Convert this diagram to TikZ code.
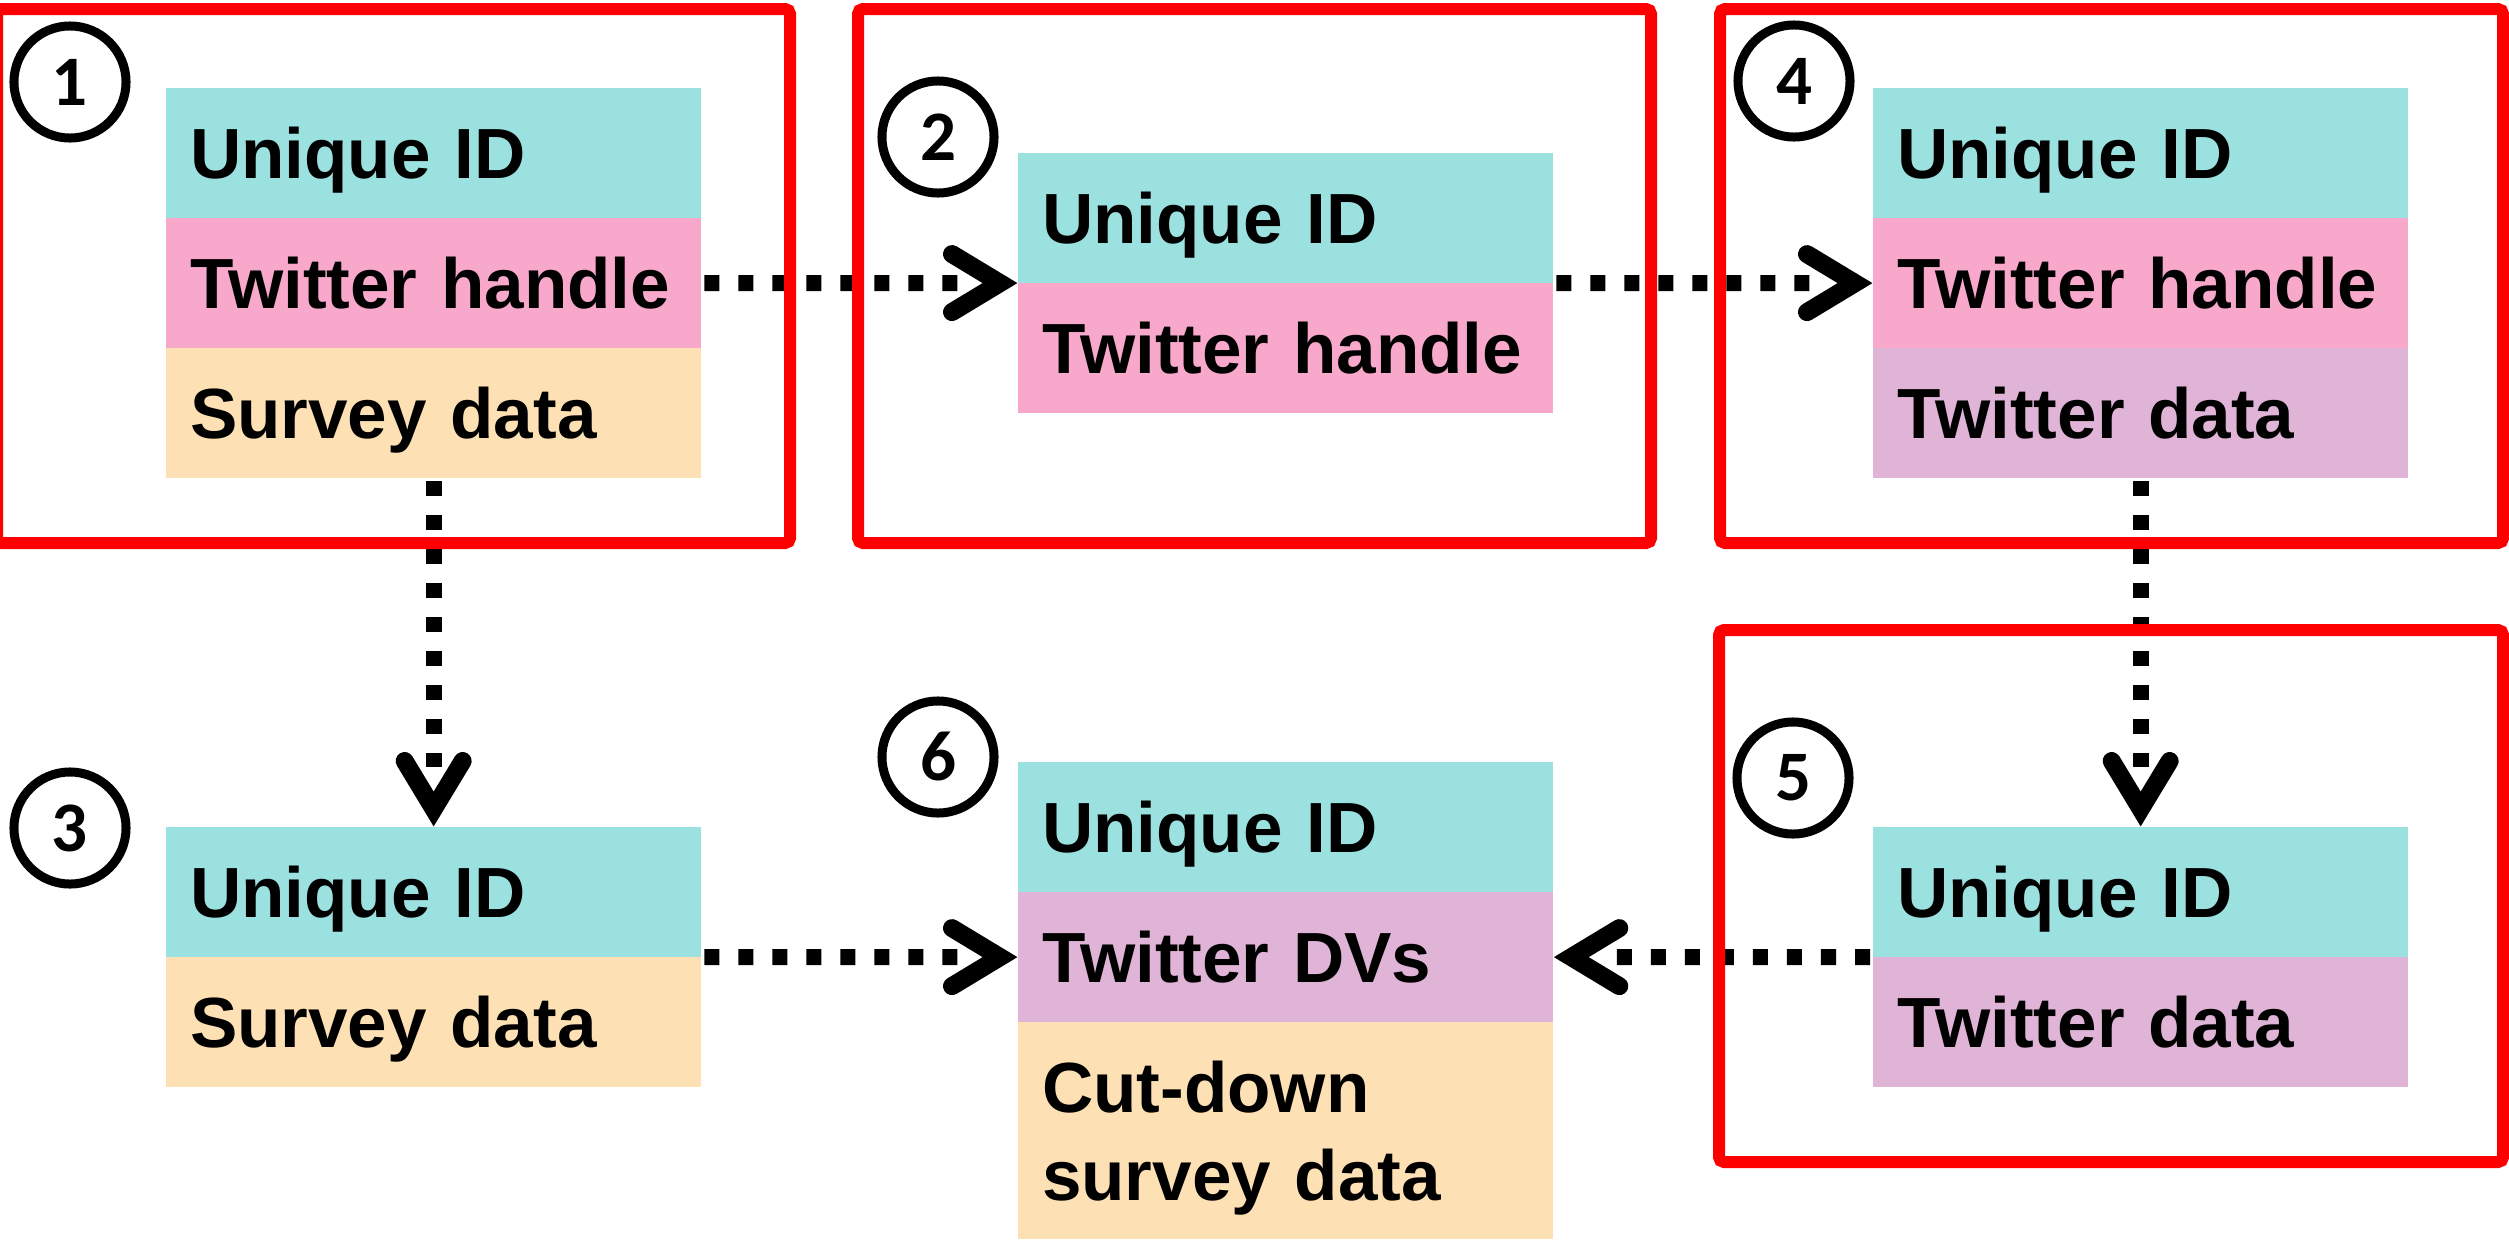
\documentclass[tikz,border=0pt]{standalone}
\usepackage{fontspec}
\setmainfont{Liberation Sans}
\newfontfamily\numfont{Carlito}
\definecolor{cid}{HTML}{9BE1E0}
\definecolor{chandle}{HTML}{F7A8CB}
\definecolor{csurvey}{HTML}{FDE1B4}
\definecolor{ctwdata}{HTML}{E0B4D6}
\newcommand\chevR[1]{\draw[chev] ([shift={(-66,-29)}]#1) -- ([shift={(-18,0)}]#1) -- ([shift={(-66,29)}]#1);}
\newcommand\chevL[1]{\draw[chev] ([shift={(66,-29)}]#1) -- ([shift={(18,0)}]#1) -- ([shift={(66,29)}]#1);}
\newcommand\chevD[1]{\draw[chev] ([shift={(-29,-66)}]#1) -- ([shift={(0,-18)}]#1) -- ([shift={(29,-66)}]#1);}
\begin{document}
\begin{tikzpicture}[x=0.01cm,y=-0.01cm,
  cell/.style={anchor=north west, minimum width=5.35cm, minimum height=1.30cm,
    inner xsep=0.24cm, inner ysep=0pt, text width=4.87cm, align=left,
    font=\fontsize{20.2pt}{25pt}\selectfont\bfseries, text height=14.5pt, text depth=0pt, outer sep=0pt},
  num/.style={circle, draw, line width=0.09cm, minimum size=1.12cm, inner sep=0pt,
    font=\numfont\fontsize{20.2pt}{24pt}\selectfont\bfseries},
  frame/.style={draw=red, line width=0.12cm, rounded corners=0.05cm},
  dots/.style={line width=0.16cm, dash pattern=on 0.15cm off 0.19cm, shorten <=0.03cm, shorten >=0.6cm},
  chev/.style={line width=0.18cm, line cap=round, line join=miter}]
\useasboundingbox (0,0) rectangle (2509,1239);

% table 1
\node[cell, fill=cid] (t1a) at (166,88) {Unique ID};
\node[cell, fill=chandle] (t1b) at (t1a.south west) {Twitter handle};
\node[cell, fill=csurvey] (t1c) at (t1b.south west) {Survey data};
% table 2
\node[cell, fill=cid] (t2a) at (1018,153) {Unique ID};
\node[cell, fill=chandle] (t2b) at (t2a.south west) {Twitter handle};
% table 4
\node[cell, fill=cid] (t4a) at (1873,88) {Unique ID};
\node[cell, fill=chandle] (t4b) at (t4a.south west) {Twitter handle};
\node[cell, fill=ctwdata] (t4c) at (t4b.south west) {Twitter data};
% table 3
\node[cell, fill=cid] (t3a) at (166,827) {Unique ID};
\node[cell, fill=csurvey] (t3b) at (t3a.south west) {Survey data};
% table 6
\node[cell, fill=cid] (t6a) at (1018,762) {Unique ID};
\node[cell, fill=ctwdata] (t6b) at (t6a.south west) {Twitter DVs};
\node[cell, fill=csurvey, minimum height=2.17cm, text depth=25pt] (t6c) at (t6b.south west) {Cut-down\\survey data};
% table 5
\node[cell, fill=cid] (t5a) at (1873,827) {Unique ID};
\node[cell, fill=ctwdata] (t5b) at (t5a.south west) {Twitter data};

% step numbers
\node[num] (c1) at (70,82) {1};
\node[num] (c2) at (938,137) {2};
\node[num] (c3) at (70,828) {3};
\node[num] (c4) at (1794,81) {4};
\node[num] (c5) at (1793,778) {5};
\node[num] (c6) at (938,757) {6};

% connectors
\draw[dots] (t1b.east) -- (t2a.south west);
\chevR{t2a.south west}
\draw[dots] (t2a.south east) -- (t4b.west);
\chevR{t4b.west}
\draw[dots] (t1c.south) -- (t3a.north);
\chevD{t3a.north}
\draw[dots] (t4c.south) -- (t5a.north);
\chevD{t5a.north}
\draw[dots] (t3a.south east) -- (t6b.west);
\chevR{t6b.west}
\draw[dots] (t5a.south west) -- (t6b.east);
\chevL{t6b.east}

% red frames
\draw[frame] (-3,9) rectangle (790,543);
\draw[frame] (858,9) rectangle (1651,543);
\draw[frame] (1720,9) rectangle (2503,543);
\draw[frame] (1719,630) rectangle (2503,1162);
\end{tikzpicture}
\end{document}
